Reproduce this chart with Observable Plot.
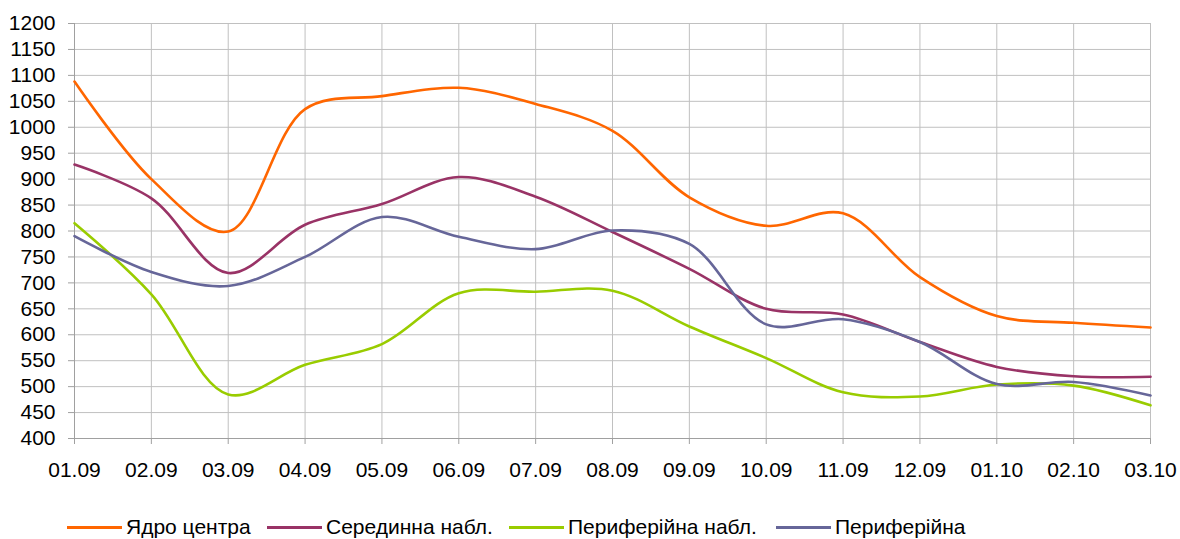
<!DOCTYPE html>
<html>
<head>
<meta charset="utf-8">
<script src="https://cdn.jsdelivr.net/npm/d3@7"></script>
<script src="https://cdn.jsdelivr.net/npm/@observablehq/plot@0.6"></script>
<style>
  html, body { margin: 0; padding: 0; background: #fff; }
  body { width: 1180px; height: 539px; overflow: hidden; font-family: "Liberation Sans", Arial, sans-serif; }
  #chart { position: relative; width: 1180px; height: 500px; }
  #legend { position: relative; width: 1180px; height: 39px; font-size: 21px; line-height: 24px; color: #000; }
  .item { position: absolute; top: 15px; display: flex; align-items: center; white-space: nowrap; }
  .swatch { width: 55px; height: 3px; margin-right: 4px; }
</style>
</head>
<body>
<div id="chart"></div>
<div id="legend"></div>
<script>
const categories = ["01.09","02.09","03.09","04.09","05.09","06.09","07.09","08.09","09.09","10.09","11.09","12.09","01.10","02.10","03.10"];
const seriesNames = ["Ядро центра", "Серединна набл.", "Периферійна набл.", "Периферійна"];
const seriesColors = ["#ff6600", "#993366", "#99cc00", "#666699"];
const core = [1088, 900, 799, 1035, 1060, 1076, 1045, 993, 865, 810, 834, 711, 636, 623, 614];
const middle = [928, 863, 719, 812, 852, 904, 866, 798, 727, 650, 639, 586, 538, 520, 519];
const peripheralObs = [815, 678, 485, 542, 582, 680, 683, 685, 616, 555, 489, 481, 504, 502, 464];
const peripheral = [790, 721, 694, 750, 827, 789, 765, 801, 775, 620, 630, 586, 505, 509, 483];
const yTicks = d3.range(400, 1201, 50);

const allSeries = [core, middle, peripheralObs, peripheral];
const rows = [];
allSeries.forEach((vals, si) => {
  vals.forEach((v, i) => rows.push({series: seriesNames[si], cat: categories[i], value: v}));
});

const chart = Plot.plot({
  width: 1180,
  height: 500,
  marginLeft: 74,
  marginRight: 30,
  marginTop: 23,
  marginBottom: 62,
  style: {fontFamily: '"Liberation Sans", Arial, sans-serif', fontSize: "21px", color: "#000", background: "#fff"},
  x: {type: "point", domain: categories, padding: 0, round: false, label: null},
  y: {domain: [400, 1200], label: null},
  color: {domain: seriesNames, range: seriesColors},
  marks: [
    Plot.gridY(yTicks, {stroke: "#c0c0c0", strokeOpacity: 1}),
    Plot.gridX(categories, {stroke: "#c0c0c0", strokeOpacity: 1}),
    Plot.axisY(yTicks, {tickSize: 6, tickPadding: 13, tickFormat: d => String(d), stroke: "#a0a0a0", fill: "#000", fontSize: 21}),
    Plot.axisX(categories, {tickSize: 6, tickPadding: 18, stroke: "#a0a0a0", fill: "#000", fontSize: 21}),
    Plot.ruleY([400], {stroke: "#a0a0a0"}),
    Plot.ruleX([categories[0]], {stroke: "#a0a0a0"}),
    Plot.line(rows, {x: "cat", y: "value", z: "series", stroke: "series", strokeWidth: 2.6, curve: "catmull-rom"})
  ]
});
document.getElementById("chart").appendChild(chart);

const legendLefts = [67, 267, 509, 776];
const legend = document.getElementById("legend");
seriesNames.forEach((name, i) => {
  const item = document.createElement("div");
  item.className = "item";
  item.style.left = legendLefts[i] + "px";
  const sw = document.createElement("span");
  sw.className = "swatch";
  sw.style.background = seriesColors[i];
  const tx = document.createElement("span");
  tx.textContent = name;
  item.appendChild(sw);
  item.appendChild(tx);
  legend.appendChild(item);
});
</script>
</body>
</html>
